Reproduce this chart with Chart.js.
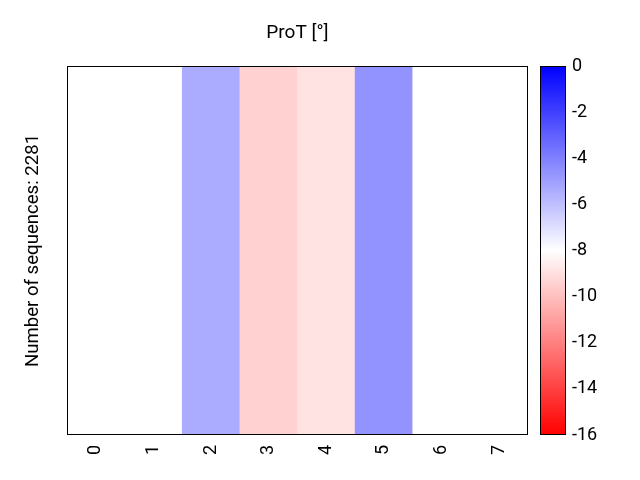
<!DOCTYPE html>
<html>
<head>
<meta charset="utf-8">
<script src="https://cdn.jsdelivr.net/npm/chart.js@4/dist/chart.umd.min.js"></script>
<style>
html,body{margin:0;padding:0;background:#fff;}
#wrap{position:relative;width:640px;height:480px;}
#main{position:absolute;left:0;top:0;}
#cbar{position:absolute;left:540px;top:0;}
</style>
</head>
<body>
<div id="wrap">
<canvas id="main" width="640" height="480"></canvas>
<canvas id="cbar" width="100" height="480"></canvas>
</div>
<script>
const categories = ['0','1','2','3','4','5','6','7'];
const values = [-8, -8, -5.35, -9.45, -8.9, -4.6, -8, -8];
const colorMin = -16;
const colorMax = 0;
const colorTicks = [-16,-14,-12,-10,-8,-6,-4,-2,0];
const titleText = 'ProT [°]';
const yLabel = 'Number of sequences: 2281';

Chart.defaults.font.family = 'Roboto';
Chart.defaults.color = '#000';

function bwr(v){
  let t = (v - colorMin) / (colorMax - colorMin);
  t = Math.max(0, Math.min(1, t));
  let r, g, b;
  if (t < 0.5) { r = 255; g = b = Math.round(255 * t / 0.5); }
  else { r = g = Math.round(255 * (1 - (t - 0.5) / 0.5)); b = 255; }
  return 'rgb(' + r + ',' + g + ',' + b + ')';
}

const frame = {
  id: 'frame',
  afterDatasetsDraw(chart){
    const a = chart.chartArea, c = chart.ctx;
    c.save();
    c.strokeStyle = '#000';
    c.lineWidth = 1;
    c.strokeRect(Math.round(a.left)+0.5, Math.round(a.top)+0.5, Math.round(a.right-a.left)-1, Math.round(a.bottom-a.top)-1);
    c.restore();
  }
};

new Chart(document.getElementById('main'), {
  type: 'bar',
  data: {
    labels: categories,
    datasets: [{
      data: values.map(() => [0, 1]),
      backgroundColor: values.map(bwr),
      borderWidth: 0,
      categoryPercentage: 1,
      barPercentage: 1
    }]
  },
  options: {
    responsive: false,
    animation: false,
    layout: { padding: { left: 0, right: 45, top: 0, bottom: 0 } },
    plugins: {
      legend: { display: false },
      tooltip: { enabled: false },
      title: {
        display: true,
        text: titleText,
        color: '#000',
        font: { size: 19, weight: 'normal' },
        padding: { top: 22, bottom: 21.2 }
      }
    },
    scales: {
      x: {
        grid: { display: false, drawTicks: false },
        border: { display: false },
        ticks: { maxRotation: 90, minRotation: 90, font: { size: 18 }, padding: 10, color: '#000' },
        afterFit(s){ s.height = 45; }
      },
      y: {
        min: 0, max: 1,
        grid: { display: false, drawTicks: false },
        border: { display: false },
        ticks: { display: false },
        title: { display: true, text: yLabel, font: { size: 18.6 }, color: '#000', padding: { top: 22, bottom: 0 } },
        afterFit(s){ s.width = 67; }
      },
      yr: {
        position: 'right',
        min: 0, max: 1,
        grid: { display: false, drawTicks: false },
        border: { display: false },
        ticks: { display: false },
        afterFit(s){ s.width = 67; }
      }
    }
  },
  plugins: [frame]
});

new Chart(document.getElementById('cbar'), {
  type: 'bar',
  data: {
    labels: [''],
    datasets: [{
      data: [[colorMin, colorMax]],
      backgroundColor(ctx){
        const ch = ctx.chart, a = ch.chartArea;
        if (!a) return '#fff';
        const ys = ch.scales.y;
        const g = ch.ctx.createLinearGradient(0, ys.getPixelForValue(colorMin), 0, ys.getPixelForValue(colorMax));
        for (let i = 0; i <= 16; i++) {
          const v = colorMin + (colorMax - colorMin) * i / 16;
          g.addColorStop(i / 16, bwr(v));
        }
        return g;
      },
      borderWidth: 0,
      categoryPercentage: 1,
      barPercentage: 1
    }]
  },
  options: {
    responsive: false,
    animation: false,
    layout: { padding: { left: 0, right: 0, top: 66, bottom: 45 } },
    plugins: { legend: { display: false }, tooltip: { enabled: false } },
    scales: {
      x: { display: false },
      y: {
        position: 'right',
        min: colorMin, max: colorMax,
        afterBuildTicks(s){ s.ticks = colorTicks.map(v => ({ value: v })); },
        grid: { display: false, drawTicks: false },
        border: { display: false },
        ticks: { font: { size: 18 }, padding: 6, color: '#000' },
        afterFit(s){ s.width = 74; }
      }
    }
  },
  plugins: [frame]
});
</script>
</body>
</html>
